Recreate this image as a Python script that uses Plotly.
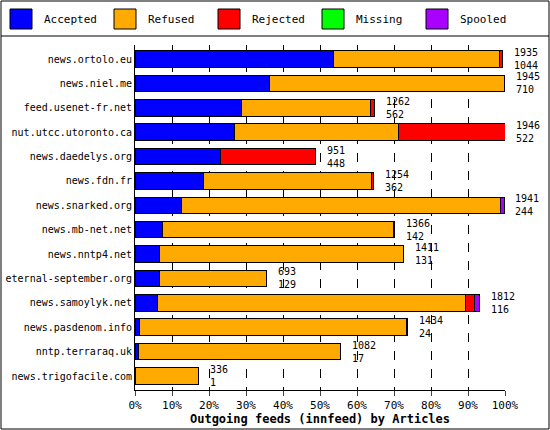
import plotly.graph_objects as go

hosts = ['news.ortolo.eu', 'news.niel.me', 'feed.usenet-fr.net', 'nut.utcc.utoronto.ca',
         'news.daedelys.org', 'news.fdn.fr', 'news.snarked.org', 'news.mb-net.net',
         'news.nntp4.net', 'eternal-september.org', 'news.samoylyk.net', 'news.pasdenom.info',
         'nntp.terraraq.uk', 'news.trigofacile.com']
offered = [1935, 1945, 1262, 1946, 951, 1254, 1941, 1366, 1411, 693, 1812, 1434, 1082, 336]
accepted = [1044, 710, 562, 522, 448, 362, 244, 142, 131, 129, 116, 24, 17, 1]
refused = [871, 1235, 675, 862, 0, 880, 1677, 1216, 1280, 564, 1621, 1402, 1062, 335]
rejected = [20, 0, 25, 562, 503, 12, 0, 8, 0, 0, 47, 8, 3, 0]
missing = [0] * 14
spooled = [0, 0, 0, 0, 0, 0, 20, 0, 0, 0, 28, 0, 0, 0]

scale_max = 1946
pct = lambda vals: [v / scale_max * 100 for v in vals]

series = [('Accepted', accepted, '#0000ff'), ('Refused', refused, '#ffaa00'),
          ('Rejected', rejected, '#ff0000'), ('Missing', missing, '#00ff00'),
          ('Spooled', spooled, '#aa00ff')]

W, H, L, R, T, B = 550, 430, 135, 45, 45, 40
pw, ph = W - L - R, H - T - B
px = lambda x: (x - L) / pw          # pixel -> paper x
py = lambda y: (H - B - y) / ph      # pixel -> paper y

fig = go.Figure()
for i, (name, vals, col) in enumerate(series):
    fig.add_trace(go.Bar(y=hosts, x=pct(vals), name=name, orientation='h',
                         marker=dict(color=col, line=dict(color='black', width=1)),
                         width=0.68, hoverinfo='skip', showlegend=False))
    # legend drawn by hand, in the header box
    x0 = 10 + i * 104
    fig.add_shape(type='rect', xref='paper', yref='paper', x0=px(x0), x1=px(x0 + 22),
                  y0=py(29), y1=py(9), fillcolor=col, line=dict(color='black', width=1))
    fig.add_annotation(xref='paper', yref='paper', x=px(x0 + 32), y=py(19), text=name,
                       showarrow=False, xanchor='left', yanchor='middle', font=dict(size=11))

for h, o, a in zip(hosts, offered, accepted):
    fig.add_annotation(xref='paper', x=o / scale_max + 0.025, y=h, text=f'{o}<br>{a}',
                       showarrow=False, xanchor='left', align='left',
                       font=dict(size=10, color='black', family='DejaVu Sans Mono'))

fig.add_shape(type='rect', xref='paper', yref='paper', x0=px(1), x1=px(W - 1), y0=py(H - 1), y1=py(1),
              line=dict(color='black', width=1))
fig.add_shape(type='line', xref='paper', yref='paper', x0=px(1), x1=px(W - 1), y0=py(36), y1=py(36),
              line=dict(color='black', width=1))

fig.update_layout(
    width=W, height=H, barmode='stack', plot_bgcolor='white', paper_bgcolor='white',
    font=dict(family='DejaVu Sans Mono', size=11, color='black'),
    margin=dict(l=L, r=R, t=T, b=B),
    xaxis=dict(range=[0, 100], tickvals=list(range(0, 101, 10)), automargin=False,
               ticktext=[f'{v}%' for v in range(0, 101, 10)],
               showgrid=True, gridcolor='black', griddash='dash', gridwidth=1,
               showline=True, linecolor='black', ticks='outside', zeroline=False,
               title=dict(text='<b>Outgoing feeds (innfeed) by Articles</b>', standoff=2,
                          font=dict(size=12))),
    yaxis=dict(autorange='reversed', showline=True, linecolor='black', ticks='',
               tickfont=dict(size=10), automargin=False),
)
fig.write_html('out.html', config={'displayModeBar': False},
               post_script="document.body.style.margin='0';")
